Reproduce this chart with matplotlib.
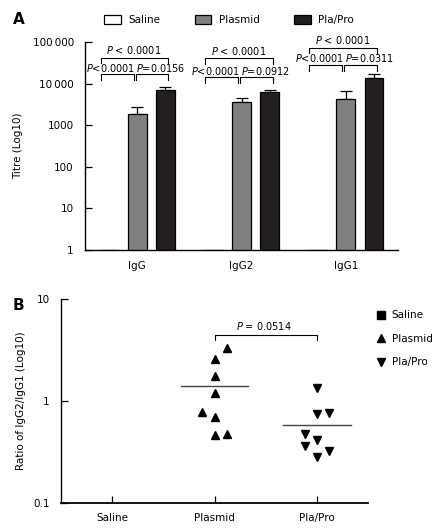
import numpy as np
import matplotlib
matplotlib.use("Agg")
import matplotlib.pyplot as plt
from matplotlib.patches import Patch
from matplotlib.lines import Line2D

plt.rcParams["font.family"] = "DejaVu Sans"
plt.rcParams["mathtext.fontset"] = "dejavusans"

# panel A data
groups = ["IgG", "IgG2", "IgG1"]
series = ["Saline", "Plasmid", "Pla/Pro"]
saline = [1, 1, 1]
plasmid = [1860, 3600, 4300]
plasmid_err = [900, 900, 2300]
plapro = [7200, 6300, 13500]
plapro_err = [1100, 800, 3500]
p_upper = ["< 0.0001", "< 0.0001", "< 0.0001"]
p_left = ["<0.0001", "<0.0001", "<0.0001"]
p_right = ["=0.0156", "=0.0912", "=0.0311"]

# panel B data
b_cats = ["Saline", "Plasmid", "Pla/Pro"]
ratio_plasmid = [3.3, 2.6, 1.76, 1.2, 0.78, 0.70, 0.46, 0.47]
ratio_plapro = [1.34, 0.75, 0.76, 0.47, 0.41, 0.36, 0.32, 0.28]
mean_plasmid = 1.40
mean_plapro = 0.58
p_b = "= 0.0514"

fig = plt.figure(figsize=(4.44, 5.28), dpi=100)

# ---------- panel A ----------
axA = fig.add_axes([85 / 444, 1 - 250 / 528, 313 / 444, 208 / 528])
x = np.arange(len(groups))
w = 0.18
off = 0.27
axA.bar(x - off, saline, w, color="white", edgecolor="black", lw=0.9, zorder=2)
axA.bar(x, plasmid, w, color="#808080", edgecolor="black", lw=0.9, zorder=2)
axA.bar(x + off, plapro, w, color="#231f20", edgecolor="black", lw=0.9, zorder=2)
axA.errorbar(x, plasmid, yerr=[np.zeros(3), plasmid_err], fmt="none",
             ecolor="black", elinewidth=0.9, capsize=4, capthick=0.9, zorder=1)
axA.errorbar(x + off, plapro, yerr=[np.zeros(3), plapro_err], fmt="none",
             ecolor="black", elinewidth=0.9, capsize=4, capthick=0.9, zorder=1)

axA.set_yscale("log")
axA.set_ylim(1, 100000)
axA.set_xlim(-0.5, 2.5)
axA.set_yticks([1, 10, 100, 1000, 10000, 100000])
axA.set_yticklabels(["1", "10", "100", "1000", "10\u2009000", "100\u2009000"])
axA.yaxis.set_minor_locator(matplotlib.ticker.NullLocator())
axA.set_xticks(x)
axA.set_xticklabels(groups)
axA.tick_params(axis="y", direction="in", length=5, width=0.9, labelsize=7.5, pad=8)
axA.tick_params(axis="x", length=0, labelsize=7.5, pad=8)
for s in ["top", "right"]:
    axA.spines[s].set_visible(False)
for s in ["left", "bottom"]:
    axA.spines[s].set_linewidth(1.0)
axA.set_ylabel("Titre (Log10)", fontsize=7.5, labelpad=7)

# bracket heights (upper y, upper drop, lower y, lower drop, upper text, lower text)
br = [
    (41200, 31300, 17000, 12200, 64000, 23700),
    (41200, 30000, 14400, 10300, 62000, 20000),
    (71800, 54400, 28000, 20000, 112000, 41200),
]
for i, g in enumerate(x):
    uy, ud, ly, ld, ut, lt = br[i]
    l0, l1 = g - 0.35, g + 0.30
    axA.plot([l0, l0, l1, l1], [ud, uy, uy, ud], color="black", lw=0.8, clip_on=False)
    axA.plot([l0, l0, g - 0.035, g - 0.035], [ld, ly, ly, ld], color="black", lw=0.8, clip_on=False)
    axA.plot([g - 0.015, g - 0.015, l1, l1], [ld, ly, ly, ld], color="black", lw=0.8, clip_on=False)
    axA.text(g - 0.03, ut, "$P$ " + p_upper[i], ha="center", va="center", fontsize=7, clip_on=False)
    axA.text(g - 0.25, lt, "$P$" + p_left[i], ha="center", va="center", fontsize=7, clip_on=False)
    axA.text(g + 0.23, lt, "$P$" + p_right[i], ha="center", va="center", fontsize=7, clip_on=False)

fig.text(13 / 444, 1 - 20 / 528, "A", fontsize=11, fontweight="bold", va="center", ha="left")
handles = [Patch(facecolor="white", edgecolor="black", lw=0.9),
           Patch(facecolor="#808080", edgecolor="black", lw=0.9),
           Patch(facecolor="#231f20", edgecolor="black", lw=0.9)]
fig.legend(handles, series, loc="center", bbox_to_anchor=(229 / 444, 1 - 20 / 528),
           ncol=3, frameon=False, fontsize=7.5, handlelength=1.6, handleheight=0.9,
           handletextpad=0.7, columnspacing=3.3, borderpad=0)

# ---------- panel B ----------
axB = fig.add_axes([61 / 444, 1 - 503 / 528, 307 / 444, 204 / 528])
jit_plasmid = [0.125, 0, 0, 0, -0.125, 0, 0, 0.125]
jit_plapro = [0, 0, 0.12, -0.12, 0, -0.12, 0.12, 0]
axB.plot(1 + np.array(jit_plasmid), ratio_plasmid, "^", color="black", ms=6, ls="none")
axB.plot(2 + np.array(jit_plapro), ratio_plapro, "v", color="black", ms=6, ls="none")
axB.plot([1 - 0.33, 1 + 0.33], [mean_plasmid] * 2, color="#444444", lw=1)
axB.plot([2 - 0.33, 2 + 0.33], [mean_plapro] * 2, color="#444444", lw=1)

axB.set_yscale("log")
axB.set_ylim(0.1, 10)
axB.set_xlim(-0.5, 2.5)
axB.set_yticks([0.1, 1, 10])
axB.set_yticklabels(["0.1", "1", "10"])
axB.yaxis.set_minor_locator(matplotlib.ticker.NullLocator())
axB.set_xticks([0, 1, 2])
axB.set_xticklabels(b_cats)
axB.tick_params(axis="both", direction="in", length=5, width=0.9, labelsize=7.5)
axB.tick_params(axis="y", pad=8)
axB.tick_params(axis="x", pad=7)
for s in ["top", "right"]:
    axB.spines[s].set_visible(False)
axB.spines["left"].set_linewidth(1.0)
axB.spines["bottom"].set_linewidth(1.3)
axB.set_ylabel("Ratio of IgG2/IgG1 (Log10)", fontsize=7.5, labelpad=5)

axB.plot([1, 1, 2, 2], [3.96, 4.44, 4.44, 3.96], color="black", lw=0.8)
axB.text(1.48, 5.43, "$P$ " + p_b, ha="center", va="center", fontsize=7)

fig.text(18 / 444, 1 - 306 / 528, "B", fontsize=11, fontweight="bold", va="center", ha="center")
hB = [Line2D([], [], marker="s", color="black", ls="none", ms=5.5),
      Line2D([], [], marker="^", color="black", ls="none", ms=6),
      Line2D([], [], marker="v", color="black", ls="none", ms=6)]
fig.legend(hB, b_cats, loc="upper left", bbox_to_anchor=(372 / 444, 1 - 305 / 528),
           frameon=False, fontsize=7.5, handlelength=0.8, handletextpad=0.6,
           labelspacing=1.3, borderpad=0)

fig.savefig("out.png", dpi=100)
